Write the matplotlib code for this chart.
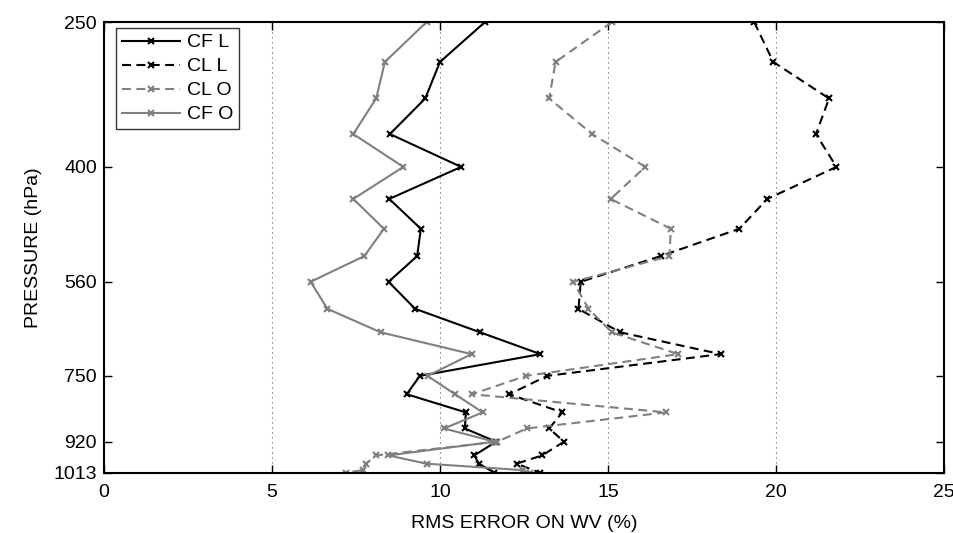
import numpy as np
import matplotlib
matplotlib.use('Agg')
import matplotlib.pyplot as plt
from matplotlib.ticker import FixedLocator, NullLocator

plt.rcParams['font.family'] = ['Liberation Sans', 'DejaVu Sans']

# pressure levels (hPa)
pres_L = [250, 283, 317, 354, 392, 433, 475, 517, 560, 609, 655, 701, 750,
          794, 840, 883, 920, 960, 985, 1013]
pres_O = [250, 283, 317, 354, 392, 433, 475, 517, 560, 609, 655, 701, 750,
          794, 840, 883, 920, 960, 985, 1005, 1013]

cf_l = [11.34, 10.0, 9.56, 8.51, 10.63, 8.49, 9.43, 9.32, 8.47, 9.26, 11.19,
        12.99, 9.40, 9.01, 10.77, 10.74, 11.67, 11.02, 11.16, 11.62]
cl_l = [19.35, 19.92, 21.58, 21.19, 21.80, 19.74, 18.91, 16.57, 14.19, 14.12,
        15.36, 18.35, 13.19, 12.06, 13.64, 13.25, 13.69, 13.04, 12.28, 12.98]
cl_o = [15.12, 13.44, 13.25, 14.53, 16.11, 15.08, 16.87, 16.83, 13.97, 14.42,
        15.11, 17.09, 12.56, 10.95, 16.74, 12.58, 11.71, 8.10, 7.80, 7.70, 7.20]
cf_o = [9.60, 8.36, 8.10, 7.42, 8.91, 7.42, 8.33, 7.75, 6.15, 6.65, 8.23,
        10.94, 9.63, 10.45, 11.27, 10.12, 11.62, 8.46, 9.60, 12.47, 12.68]

ytick_vals = [250, 392, 560, 750, 920, 1013]
ytick_labels = ['250', '400', '560', '750', '920', '1013']
xtick_vals = [0, 5, 10, 15, 20, 25]

grey = '#808080'
dash = (4.3, 2.6)

fig = plt.figure(figsize=(9.54, 5.33), dpi=100)
ax = fig.add_axes([0.109, 0.1131, 0.8805, 0.8456])

kw = dict(marker='x', ms=5, mew=1.5, lw=1.5)
ax.plot(cf_l, pres_L, '-', color='k', label='CF L', **kw)
ax.plot(cl_l, pres_L, '--', color='k', dashes=dash, label='CL L', **kw)
ax.plot(cl_o, pres_O, '--', color=grey, dashes=dash, label='CL O', **kw)
ax.plot(cf_o, pres_O, '-', color=grey, label='CF O', **kw)

ax.set_yscale('log')
ax.set_ylim(1013, 250)
ax.set_xlim(0, 25)
ax.yaxis.set_major_locator(FixedLocator(ytick_vals))
ax.yaxis.set_minor_locator(NullLocator())
ax.set_yticklabels(ytick_labels)
ax.set_xticks(xtick_vals)
ax.set_xticklabels([str(v) for v in xtick_vals])

ax.tick_params(direction='in', top=True, right=True, length=6, width=1,
               labelsize=14, pad=5)
ax.tick_params(axis='x', pad=8)
ax.grid(axis='x', linestyle=(0, (1, 3.5)), color='#555555', lw=0.8)
for s in ax.spines.values():
    s.set_linewidth(1.5)

ax.set_xlabel('RMS ERROR ON WV (%)', fontsize=14, labelpad=10)
ax.set_ylabel('PRESSURE (hPa)', fontsize=14, labelpad=8)

leg = ax.legend(loc='upper left', bbox_to_anchor=(0.014, 0.987), fontsize=14,
                fancybox=False, framealpha=1, edgecolor='#333333',
                handlelength=3.0, borderaxespad=0, labelspacing=0.33,
                handletextpad=0.35, borderpad=0.3)
leg.get_frame().set_linewidth(1.0)

fig.savefig('out.png', dpi=100)
